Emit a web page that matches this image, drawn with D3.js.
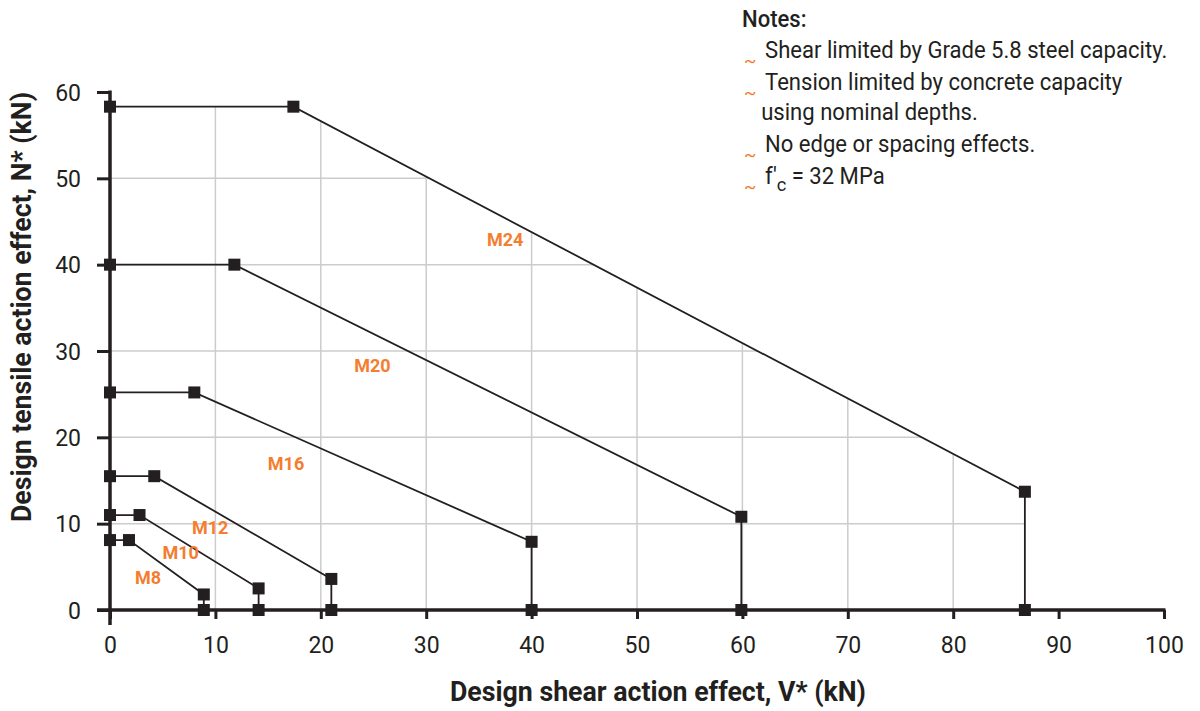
<!DOCTYPE html>
<html>
<head>
<meta charset="utf-8">
<script src="https://cdn.jsdelivr.net/npm/d3@7"></script>
<style>
  body { margin: 0; background: #fff; }
  text { font-family: "Roboto", "Liberation Sans", sans-serif; }
</style>
</head>
<body>
<div id="chart"></div>
<script>
// anchor sizes, each envelope: (0,N) -> (Vk,N) -> (Vmax,Nmin) -> (Vmax,0)
var sizes = [ 'M8', 'M10', 'M12', 'M16', 'M20', 'M24' ];
var tensionMax = [ 8.1, 11.0, 15.5, 25.2, 40.0, 58.3 ];
var kneeShear = [ 1.8, 2.8, 4.2, 8.0, 11.8, 17.4 ];
var shearMax = [ 8.9, 14.1, 21.0, 40.0, 59.9, 86.8 ];
var tensionAtShearMax = [ 1.8, 2.5, 3.6, 7.9, 10.8, 13.7 ];
var labelX = [ 3.6, 6.7, 9.5, 16.7, 24.9, 37.5 ];
var labelY = [ 3.7, 6.6, 9.5, 16.9, 28.3, 42.9 ];

var xTicks = [ 0, 10, 20, 30, 40, 50, 60, 70, 80, 90, 100 ];
var yTicks = [ 0, 10, 20, 30, 40, 50, 60 ];

var notes = [
  [ 'Shear limited by Grade 5.8 steel capacity.' ],
  [ 'Tension limited by concrete capacity', 'using nominal depths.' ],
  [ 'No edge or spacing effects.' ],
  [ 'fc' ]
];

var ink = '#231f20';
var orange = '#f47d30';
var gridColor = '#cccccc';

var width = 1200, height = 711;
var svg = d3.select( '#chart' ).append( 'svg' )
  .attr( 'width', width )
  .attr( 'height', height );

var x = d3.scaleLinear().domain( [ 0, 100 ] ).range( [ 110, 1164 ] );
var y = d3.scaleLinear().domain( [ 0, 60 ] ).range( [ 610, 92 ] );

var envelopes = sizes.map( function( s, i ) {
  return [
    [ 0, tensionMax[ i ] ],
    [ kneeShear[ i ], tensionMax[ i ] ],
    [ shearMax[ i ], tensionAtShearMax[ i ] ],
    [ shearMax[ i ], 0 ]
  ];
} );

var line = d3.line()
  .x( function( d ) { return x( d[ 0 ] ); } )
  .y( function( d ) { return y( d[ 1 ] ); } );

// grid is only drawn under the largest envelope
var big = envelopes[ envelopes.length - 1 ];
svg.append( 'clipPath' ).attr( 'id', 'gridclip' )
  .append( 'path' )
  .attr( 'd', line( [ [ 0, 0 ] ].concat( big ) ) + 'Z' );

var grid = svg.append( 'g' ).attr( 'clip-path', 'url(#gridclip)' );
grid.selectAll( '.vg' )
  .data( xTicks.filter( function( d ) { return d > 0 && d < 100; } ) )
  .enter().append( 'line' )
  .attr( 'x1', function( d ) { return x( d ); } )
  .attr( 'x2', function( d ) { return x( d ); } )
  .attr( 'y1', y( 0 ) ).attr( 'y2', y( 60 ) )
  .attr( 'stroke', gridColor ).attr( 'stroke-width', 1.5 );
grid.selectAll( '.hg' )
  .data( yTicks.filter( function( d ) { return d > 0 && d < 60; } ) )
  .enter().append( 'line' )
  .attr( 'x1', x( 0 ) ).attr( 'x2', x( 100 ) )
  .attr( 'y1', function( d ) { return y( d ); } )
  .attr( 'y2', function( d ) { return y( d ); } )
  .attr( 'stroke', gridColor ).attr( 'stroke-width', 1.5 );

// axes
var xAxis = svg.append( 'g' )
  .attr( 'transform', 'translate(0,' + y( 0 ) + ')' )
  .call( d3.axisBottom( x ).tickValues( xTicks ).tickSize( 9 ).tickPadding( 18 ) );
var yAxis = svg.append( 'g' )
  .attr( 'transform', 'translate(' + x( 0 ) + ',0)' )
  .call( d3.axisLeft( y ).tickValues( yTicks ).tickSize( 13 ).tickPadding( 16 ) );

[ xAxis, yAxis ].forEach( function( a ) {
  a.select( '.domain' ).remove();
  a.selectAll( '.tick line' ).attr( 'stroke', ink ).attr( 'stroke-width', 3 );
  a.selectAll( '.tick text' ).attr( 'fill', ink ).attr( 'font-size', 23 )
    .style( 'font-family', '"Roboto", sans-serif' );
} );
yAxis.selectAll( '.tick text' ).attr( 'dy', '0.36em' );

svg.append( 'line' )
  .attr( 'x1', x( 0 ) - 13 ).attr( 'x2', x( 100 ) + 1.5 )
  .attr( 'y1', y( 0 ) ).attr( 'y2', y( 0 ) )
  .attr( 'stroke', ink ).attr( 'stroke-width', 3.5 );
svg.append( 'line' )
  .attr( 'x1', x( 0 ) ).attr( 'x2', x( 0 ) )
  .attr( 'y1', y( 0 ) + 15 ).attr( 'y2', y( 60 ) - 1.5 )
  .attr( 'stroke', ink ).attr( 'stroke-width', 3.5 );

// envelopes
envelopes.forEach( function( env, i ) {
  svg.append( 'path' )
    .attr( 'd', line( env ) )
    .attr( 'fill', 'none' )
    .attr( 'stroke', ink )
    .attr( 'stroke-width', 1.8 );
  svg.selectAll( null )
    .data( env )
    .enter().append( 'rect' )
    .attr( 'x', function( d ) { return x( d[ 0 ] ) - 6; } )
    .attr( 'y', function( d ) { return y( d[ 1 ] ) - 6; } )
    .attr( 'width', 12 ).attr( 'height', 12 )
    .attr( 'fill', ink );
  svg.append( 'text' )
    .attr( 'x', x( labelX[ i ] ) )
    .attr( 'y', y( labelY[ i ] ) )
    .attr( 'dy', '0.35em' )
    .attr( 'text-anchor', 'middle' )
    .attr( 'font-size', 18 )
    .attr( 'font-weight', 'bold' )
    .attr( 'fill', orange )
    .text( sizes[ i ] );
} );

// axis titles, squeezed to look like a condensed face
svg.append( 'text' )
  .attr( 'x', 658 ).attr( 'y', 701 )
  .attr( 'text-anchor', 'middle' )
  .attr( 'font-size', 28 ).attr( 'font-weight', 'bold' )
  .attr( 'textLength', 416 ).attr( 'lengthAdjust', 'spacingAndGlyphs' )
  .attr( 'fill', ink )
  .text( 'Design shear action effect, V* (kN)' );
svg.append( 'text' )
  .attr( 'transform', 'translate(31,307) rotate(-90)' )
  .attr( 'text-anchor', 'middle' )
  .attr( 'font-size', 28 ).attr( 'font-weight', 'bold' )
  .attr( 'textLength', 430 ).attr( 'lengthAdjust', 'spacingAndGlyphs' )
  .attr( 'fill', ink )
  .text( 'Design tensile action effect, N* (kN)' );

// notes
var nx = 742;
var ng = svg.append( 'g' ).attr( 'transform', 'translate(' + nx + ',0) scale(0.96,1)' );
ng.append( 'text' )
  .attr( 'x', 0 ).attr( 'y', 27 )
  .attr( 'font-size', 23 ).attr( 'font-weight', 500 ).attr( 'fill', ink )
  .text( 'Notes:' );

var lineY = 58;
notes.forEach( function( n ) {
  ng.append( 'text' )
    .attr( 'x', 2 ).attr( 'y', lineY + 9 )
    .attr( 'font-size', 19 ).attr( 'fill', orange )
    .text( '~' );
  n.forEach( function( t, j ) {
    var tx = ng.append( 'text' )
      .attr( 'x', j === 0 ? 24 : 20 )
      .attr( 'y', lineY )
      .attr( 'font-size', 23 ).attr( 'fill', ink );
    if ( t === 'fc' ) {
      tx.append( 'tspan' ).text( 'f\'' );
      tx.append( 'tspan' ).attr( 'dy', 7 ).attr( 'font-size', 19 ).text( 'c' );
      tx.append( 'tspan' ).attr( 'dy', -7 ).text( ' = 32 MPa' );
    } else {
      tx.text( t );
    }
    lineY += ( j < n.length - 1 ) ? 30 : 32;
  } );
} );
</script>
</body>
</html>
